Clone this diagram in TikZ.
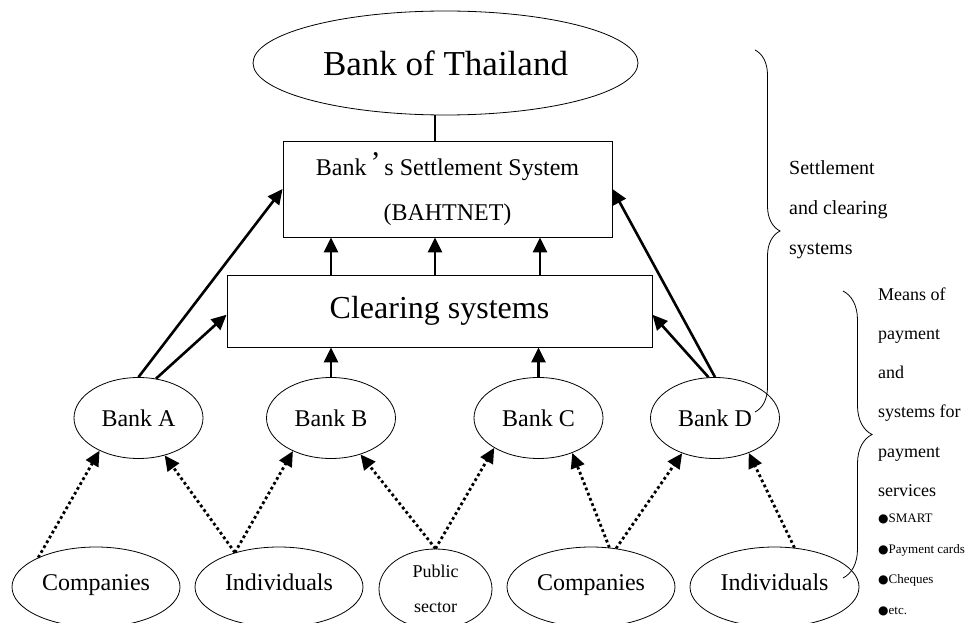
\documentclass[tikz,border=0pt]{standalone}
\usepackage{fontspec}
\setmainfont{Liberation Serif}
\newfontfamily\symf{DejaVu Sans}
\newcommand\mybul{{\symf\fontsize{12}{12}\selectfont ●}}
\usetikzlibrary{arrows.meta,shapes.geometric,decorations.pathreplacing}
\begin{document}
\begin{tikzpicture}[x=1pt,y=-1pt,
  ell/.style={draw,ellipse,line width=0.8pt,inner sep=0pt},
  bank/.style={ell,minimum width=129pt,minimum height=81pt,font=\fontsize{24}{28}\selectfont,text height=16pt,text depth=0pt},
  party/.style={ell,minimum width=168pt,minimum height=80pt,font=\fontsize{24}{28}\selectfont,text height=16pt,text depth=9pt},
  boxn/.style={draw,line width=0.9pt,rectangle,inner sep=0pt},
  arr/.style={line width=2.6pt,-{Triangle[length=15pt,width=14pt]}},
  darr/.style={line width=2.8pt,dash pattern=on 2.8pt off 2.8pt,-{Triangle[length=15pt,width=14pt]}},
  lnk/.style={line width=2.6pt},
  brc/.style={decorate,decoration={brace,amplitude=#1},line width=0.8pt},
  lbl/.style={anchor=west,align=left,inner sep=0pt}
]
\useasboundingbox (0,0) rectangle (975,623);
\fill[white] (0,0) rectangle (975,623);

\node[ell,minimum width=385pt,minimum height=104pt,font=\fontsize{35}{40}\selectfont] (bot) at (445.5,63) {Bank of Thailand};
\node[boxn,minimum width=329pt,minimum height=96pt,align=center,font=\fontsize{24}{45}\selectfont] (set) at (447.5,189) {Bank\hspace{4pt}\raisebox{3pt}{\fontsize{30}{30}\selectfont ’}\hspace{4pt}s Settlement System\\(BAHTNET)};
\node[boxn,minimum width=425pt,minimum height=72pt,font=\fontsize{32}{36}\selectfont] (clr) at (439.5,311) {Clearing systems};

\node[bank] (bA) at (138.5,418) {Bank A};
\node[bank] (bB) at (331,418) {Bank B};
\node[bank] (bC) at (538.5,418) {Bank C};
\node[bank] (bD) at (715,418) {Bank D};

\node[party] (cA) at (96,587) {Companies};
\node[party] (iA) at (279,587) {Individuals};
\node[ell,minimum width=113pt,minimum height=80pt,align=center,font=\fontsize{18}{35}\selectfont] (pub) at (435.5,589) {Public\\sector};
\node[party] (cB) at (591,587) {Companies};
\node[party,minimum width=169pt] (iB) at (774.5,587) {Individuals};

\coordinate (mx) at (435,0);
\coordinate (rx) at (540,0);
\draw[lnk] (mx |- bot.south) -- (mx |- set.north);
\draw[arr] (bB |- clr.north) -- (bB |- set.south);
\draw[arr] (mx |- clr.north) -- (mx |- set.south);
\draw[arr] (rx |- clr.north) -- (rx |- set.south);
\draw[arr] (bB.north) -- (bB |- clr.south);
\draw[arr] (bC.north) -- (bC |- clr.south);
\draw[arr] (bA.north) -- (set.west);
\draw[arr] (bA.66) -- (clr.181.3);
\draw[arr] (bD.north) -- (set.east);
\draw[arr] (bD.99) -- (clr.-1.9);

\draw[darr] (cA.153) -- (bA.220);
\draw[darr] (iA.142) -- (bA.-55);
\draw[darr] (iA.142) -- (bB.221);
\draw[darr] (pub.north) -- (bB.-51.5);
\draw[darr] (pub.north) -- (bC.214.5);
\draw[darr] (cB.65) -- (bC.-46);
\draw[darr] (cB.57) -- (bD.227);
\draw[darr] (iB.63) -- (bD.-46);

\coordinate (b1s) at (755,50);
\coordinate (b1e) at (755,412);
\draw[brc=25pt] (b1s) -- (b1e);
\coordinate (b2s) at (843,291);
\coordinate (b2e) at (843,578);
\draw[brc=29pt] (b2s) -- (b2e);

\node[lbl,font=\fontsize{20}{40}\selectfont] (t1) at (789,210) {Settlement\\and clearing\\systems};
\node[lbl,font=\fontsize{18}{39.2}\selectfont] (t2) at (878,392) {Means of\\payment\\and\\systems for\\payment\\services};
\node[lbl,font=\fontsize{13}{30.7}\selectfont] (t3) at (878,565) {\mybul SMART\\\mybul Payment cards\\\mybul Cheques\\\mybul etc.};
\end{tikzpicture}
\end{document}
